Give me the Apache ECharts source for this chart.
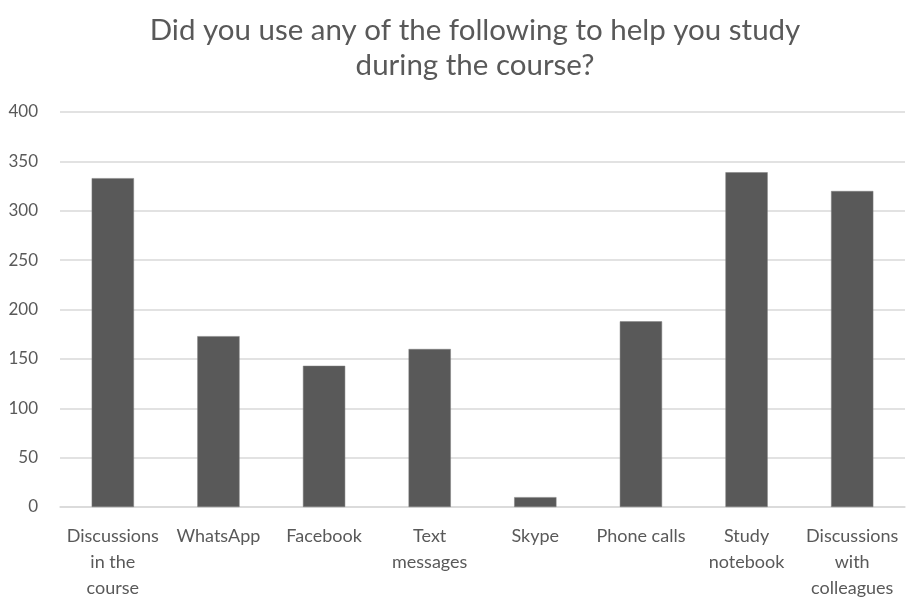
<!DOCTYPE html>
<html><head><meta charset="utf-8">
<script src="https://cdn.jsdelivr.net/npm/echarts@6/dist/echarts.min.js"></script>
<style>html,body{margin:0;padding:0;background:#fff}#c{width:909px;height:602px}</style>
</head><body><div id="c"></div>
<script>
const categories = ["Discussions\nin the\ncourse","WhatsApp","Facebook","Text\nmessages","Skype","Phone calls","Study\nnotebook","Discussions\nwith\ncolleagues"];
const values = [333,173,143,160,10,188,339,320];
const titleText = "Did you use any of the following to help you study\nduring the course?";
const chart = echarts.init(document.getElementById('c'));
chart.setOption({
  animation:false,
  title:{text:titleText,left:470,textAlign:'center',top:8,textStyle:{fontFamily:'Lato',fontSize:29.5,fontWeight:'normal',color:'#595959',lineHeight:35}},
  grid:{left:60,right:4,top:112,bottom:95},
  xAxis:{type:'category',data:categories,axisLine:{lineStyle:{color:'#d9d9d9',width:1.5}},axisTick:{show:false},
    axisLabel:{interval:0,fontFamily:'Lato',fontSize:18,color:'#595959',lineHeight:26,margin:16}},
  yAxis:{type:'value',min:0,max:400,interval:50,axisLine:{show:false},axisTick:{show:false},
    splitLine:{lineStyle:{color:'#d9d9d9',width:1.5}},
    axisLabel:{fontFamily:'Lato',fontSize:17,color:'#595959',margin:22}},
  series:[{type:'bar',data:values,barWidth:'40%',itemStyle:{color:'#595959',borderColor:'#7f7f7f',borderWidth:0.5}}]
});
</script></body></html>
